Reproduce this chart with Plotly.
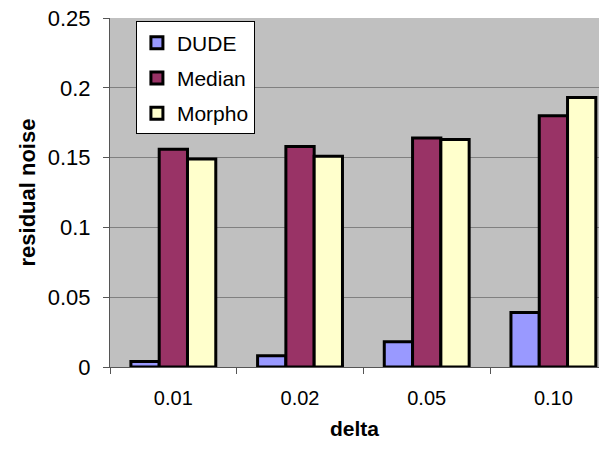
import plotly.graph_objects as go

# Noise level categories and residual noise per method
deltas = ["0.01", "0.02", "0.05", "0.10"]
dude = [0.004, 0.008, 0.018, 0.039]
median = [0.156, 0.158, 0.164, 0.180]
morpho = [0.149, 0.151, 0.163, 0.193]

series = [
    ("DUDE", dude, "#9999FF"),
    ("Median", median, "#993366"),
    ("Morpho", morpho, "#FFFFCC"),
]

FONT = "Arial, 'Liberation Sans', sans-serif"

fig = go.Figure()
for name, vals, color in series:
    fig.add_trace(go.Bar(
        x=deltas, y=vals, name=name, legendgroup=name,
        marker=dict(color=color, line=dict(color="black", width=3)),
    ))

fig.update_layout(
    width=599, height=449,
    margin=dict(l=110, r=0, t=18, b=82),
    paper_bgcolor="white",
    plot_bgcolor="#C0C0C0",
    barmode="group",
    bargap=0.33,
    bargroupgap=0,
    font=dict(family=FONT, size=21, color="black"),
    showlegend=True,
    legend=dict(
        x=0.053, y=0.99, xanchor="left", yanchor="top",
        bgcolor="white", bordercolor="black", borderwidth=1,
        font=dict(family=FONT, size=21),
        tracegroupgap=5,
        itemwidth=30,
    ),
    xaxis=dict(
        type="category",
        range=[-0.5, 3.36],
        showgrid=False,
        showline=True, linecolor="#555", linewidth=1,
        ticks="outside", ticklen=6, tickcolor="#555",
        tickson="boundaries",
        ticklabelstandoff=13,
        tickfont=dict(family=FONT, size=20),
        title=dict(text="<b>delta</b>", font=dict(family=FONT, size=21), standoff=13),
        fixedrange=True,
    ),
    yaxis=dict(
        range=[0, 0.25], dtick=0.05,
        showgrid=True, gridcolor="#808080", gridwidth=1,
        zeroline=False,
        showline=True, linecolor="#555", linewidth=1,
        ticks="outside", ticklen=6, tickcolor="#555",
        ticklabelstandoff=8,
        tickfont=dict(family=FONT, size=22),
        fixedrange=True,
    ),
)

# Vertical y-axis title placed to the left of the tick labels
fig.add_annotation(
    text="<b>residual noise</b>",
    xref="paper", yref="paper", x=0, y=0.5,
    xanchor="center", yanchor="middle",
    xshift=-83, textangle=-90, showarrow=False,
    font=dict(family=FONT, size=22, color="black"),
)

fig.write_html("out.html")
